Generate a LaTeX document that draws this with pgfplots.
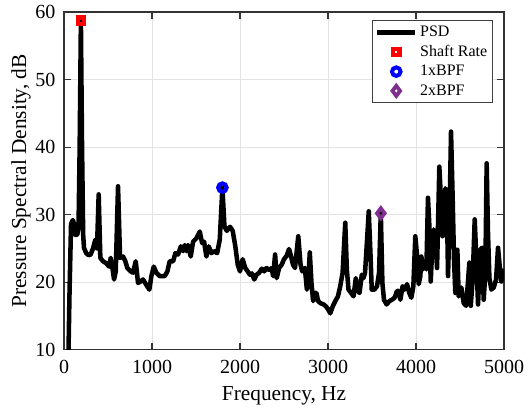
\documentclass[border=0pt]{standalone}
\usepackage{pgfplots}
\pgfplotsset{compat=1.18}
\usepackage{fontspec}
\setmainfont{Liberation Serif}
\pgfplotsset{
 psdlegend/.style={legend image code/.code={\draw[##1] (0cm,0cm) -- (1.0cm,0cm);}},
 marklegend/.style={legend image code/.code={\draw[mark repeat=2,mark phase=2,##1] plot coordinates {(0cm,0cm) (0.5cm,0cm) (1.0cm,0cm)};}},
}
\begin{document}
\begin{tikzpicture}
\begin{axis}[
 name=ax,
 scale only axis, width=330pt, height=253.3pt,
 xmin=0,xmax=5000,ymin=10,ymax=60,
 xtick={0,1000,...,5000}, ytick={10,20,...,60},
 grid=major, grid style={gray!22, line width=0.5pt},
 axis line style={line width=0.8pt, black!80},
 tick style={black!80, line width=0.8pt},
 major tick length=5pt,
 scaled x ticks=false,
 /pgf/number format/assume math mode=true,
 /pgf/number format/set thousands separator={},
 ticklabel style={font=\fontsize{15}{18}\selectfont},
 xticklabel style={yshift=-4pt},
 yticklabel style={xshift=-3pt},
 xlabel={Frequency, Hz}, ylabel={Pressure Spectral Density, dB},
 label style={font=\fontsize{16}{19}\selectfont},
 xlabel style={yshift=-3pt},
 ylabel style={yshift=-3.5pt},
 legend style={at={(0.975,0.975)}, anchor=north east, font=\fontsize{12}{14}\selectfont, draw=black!75, line width=0.6pt, row sep=1pt, inner sep=2pt},
 legend cell align=left,
]
\addplot[black, line width=3.4pt, line join=round, mark=none, psdlegend] coordinates {
(45,5) (62,18) (80,28.6) (100,29.2) (118,28.5) (129,27.0) (150,27) (165,28) (178,40) (192,58.7) (205,40) (218,27) (227,25.1) (252,24.3) (280,24.0) (303,24.1) (330,25.0) (356,26.3) (375,25.0) (394,33.0) (413,23.6) (443,23.1) (481,22.8) (512,22.3) (531,23.6) (550,22.1) (569,20.4) (588,21.6) (614,34.2) (637,23.6) (671,23.8) (697,23.1) (720,22.1) (758,21.6) (785,21.4) (815,23.1) (841,19.9) (871,20.1) (898,20.4) (936,19.6) (970,18.9) (993,20.9) (1020,22.3) (1050,21.4) (1088,20.9) (1145,20.9) (1175,21.6) (1201,23.1) (1240,23.1) (1266,24.3) (1296,24.1) (1327,25.3) (1353,24.6) (1372,25.5) (1391,24.6) (1410,25.5) (1440,23.8) (1467,26.0) (1505,26.5) (1543,27.5) (1569,25.8) (1592,26.0) (1618,23.8) (1645,25.3) (1675,24.3) (1705,24.6) (1740,24.3) (1770,26.3) (1800,34.0) (1823,28.3) (1850,27.6) (1887,28.2) (1917,27.6) (1947,25.3) (1974,22.6) (2000,21.6) (2030,23.4) (2060,22.1) (2087,21.6) (2113,21.1) (2135,21.3) (2162,20.4) (2188,21.1) (2218,21.4) (2248,22.0) (2274,21.6) (2301,22.1) (2331,21.8) (2361,22.1) (2376,20.9) (2399,24.1) (2417,20.6) (2444,22.1) (2474,22.6) (2500,23.4) (2530,23.9) (2557,24.9) (2575,24.1) (2602,22.6) (2625,22.1) (2662,26.8) (2688,22.6) (2707,21.6) (2737,22.1) (2760,18.9) (2775,20.1) (2793,24.4) (2812,19.9) (2831,17.2) (2850,18.4) (2869,18.4) (2887,17.2) (2914,16.9) (2951,16.7) (2978,16.4) (3000,16.0) (3026,15.4) (3053,16.4) (3083,17.2) (3113,17.9) (3139,19.4) (3166,21.4) (3196,28.8) (3214,21.9) (3233,18.9) (3263,18.4) (3290,17.9) (3316,20.6) (3339,18.7) (3358,18.4) (3384,21.1) (3403,20.6) (3421,21.4) (3444,26.3) (3463,30.5) (3482,24.4) (3497,18.9) (3527,18.9) (3557,19.4) (3580,21.4) (3600,30.2) (3618,19.9) (3636,17.4) (3666,16.7) (3697,17.2) (3727,17.4) (3757,17.7) (3784,18.7) (3803,18.7) (3822,17.4) (3848,19.4) (3871,18.9) (3898,19.7) (3924,18.4) (3947,17.7) (3970,19.4) (3992,26.8) (4011,24.1) (4030,19.7) (4049,20.9) (4061,23.8) (4080,21.9) (4099,22.9) (4118,21.9) (4136,32.5) (4152,28.3) (4167,20.1) (4182,24.3) (4201,27.8) (4220,26.8) (4239,22.1) (4250,28.3) (4265,37.1) (4284,32.2) (4303,26.8) (4318,29.8) (4334,33.9) (4349,33.2) (4364,20.9) (4379,28.3) (4398,42.3) (4417,32.2) (4432,23.3) (4447,18.4) (4470,24.8) (4485,17.9) (4515,19.2) (4542,16.9) (4569,16.5) (4591,20.1) (4606,22.9) (4622,16.5) (4644,20.4) (4667,29.3) (4686,23.3) (4705,16.7) (4731,24.8) (4750,25.1) (4769,17.4) (4788,21.4) (4803,37.6) (4818,27.3) (4834,20.6) (4856,18.9) (4883,19.2) (4910,20.4) (4932,25.1) (4951,22.4) (4970,20.1) (4985,21.6) (5000,21.9)
};
\addlegendentry{PSD}
\addplot[only marks, mark=square, mark size=2.4pt, red, mark options={line width=3.2pt, fill=none}, marklegend] coordinates {(192,58.7)};
\addlegendentry{Shaft Rate}
\addplot[only marks, mark=o, mark size=3.2pt, blue, mark options={line width=3pt, fill=none}, marklegend] coordinates {(1800,34.0)};
\addlegendentry{1xBPF}
\addplot[only marks, mark=diamond, mark size=3.8pt, color={rgb,255:red,126;green,47;blue,142}, mark options={line width=2.8pt, fill=none}, marklegend] coordinates {(3600,30.2)};
\addlegendentry{2xBPF}
\end{axis}
\path (ax.south west) ++(-48pt,-44pt) coordinate (bbA);
\path (ax.north east) ++(18.75pt,9pt) coordinate (bbB);
\path (bbA) rectangle (bbB);
\end{tikzpicture}
\end{document}
